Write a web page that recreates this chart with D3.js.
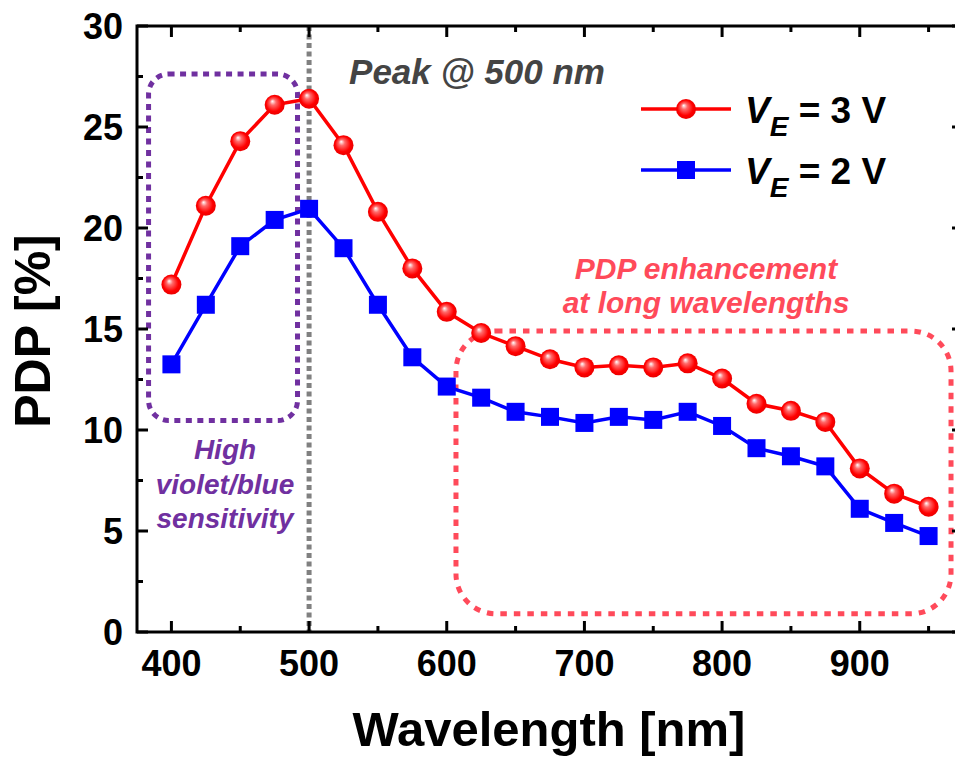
<!DOCTYPE html>
<html><head><meta charset="utf-8">
<script src="https://cdn.jsdelivr.net/npm/d3@7"></script>
<style>body{margin:0;background:#fff}svg{display:block}text{font-family:"Liberation Sans",Arial,sans-serif;font-weight:bold}</style>
</head><body><svg id="c" width="955" height="760"></svg>
<script>
const wavelengths = [400,425,450,475,500,525,550,575,600,625,650,675,700,725,750,775,800,825,850,875,900,925,950];
const pdp3V = [17.2,21.1,24.3,26.1,26.4,24.1,20.8,18.0,15.85,14.8,14.15,13.5,13.1,13.2,13.1,13.3,12.55,11.3,10.95,10.4,8.1,6.85,6.2];
const pdp2V = [13.25,16.2,19.1,20.4,20.95,19.0,16.2,13.6,12.15,11.6,10.9,10.65,10.35,10.65,10.5,10.9,10.2,9.1,8.7,8.2,6.1,5.4,4.75];
const xTicks = [400,500,600,700,800,900];
const yTicks = [0,5,10,15,20,25,30];

const svg = d3.select('#c');
const L=137, T=26, R=963, B=632;
const x = d3.scaleLinear().domain([375,975]).range([L,R]);
const y = d3.scaleLinear().domain([0,30]).range([B,T]);

const defs = svg.append('defs');
const g = defs.append('radialGradient').attr('id','ball').attr('cx','0.5').attr('cy','0.5').attr('r','0.55').attr('fx','0.38').attr('fy','0.32');
g.append('stop').attr('offset','0').attr('stop-color','#ffffff');
g.append('stop').attr('offset','0.28').attr('stop-color','#ff6a6a');
g.append('stop').attr('offset','0.7').attr('stop-color','#ff0000');
g.append('stop').attr('offset','1').attr('stop-color','#e40000');

// gray dotted vertical at peak
svg.append('line').attr('x1',x(500)).attr('x2',x(500)).attr('y1',T).attr('y2',B)
  .attr('stroke','#808080').attr('stroke-width',5).attr('stroke-dasharray','5,3.5');

// purple rounded dotted box
svg.append('rect').attr('x',x(383.4)).attr('y',y(27.62)).attr('width',x(491.6)-x(383.4)).attr('height',y(10.47)-y(27.62))
  .attr('rx',20).attr('fill','none').attr('stroke','#7030A0').attr('stroke-width',5).attr('stroke-dasharray','6,5.5');
// red rounded dotted box
svg.append('rect').attr('x',x(606.7)).attr('y',y(14.9)).attr('width',x(966.3)-x(606.7)).attr('height',y(0.9)-y(14.9))
  .attr('rx',40).attr('fill','none').attr('stroke','#FF4A5A').attr('stroke-width',5).attr('stroke-dasharray','6.5,7');

// axes frame
const ax = svg.append('g').attr('stroke','#000').attr('stroke-width',3).attr('fill','none');
ax.append('rect').attr('x',L).attr('y',T).attr('width',R-L).attr('height',B-T);

// ticks (inward)
const xMajor = d3.range(400,1000,100), xMinor = d3.range(450,1000,100);
const yMajor = d3.range(0,31,5), yMinor = d3.range(2.5,30,5);
xMajor.forEach(v=>{ax.append('line').attr('x1',x(v)).attr('x2',x(v)).attr('y1',B).attr('y2',B-11);
  ax.append('line').attr('x1',x(v)).attr('x2',x(v)).attr('y1',T).attr('y2',T+11);});
xMinor.forEach(v=>{ax.append('line').attr('x1',x(v)).attr('x2',x(v)).attr('y1',B).attr('y2',B-6);
  ax.append('line').attr('x1',x(v)).attr('x2',x(v)).attr('y1',T).attr('y2',T+6);});
yMajor.forEach(v=>{ax.append('line').attr('x1',L).attr('x2',L+11).attr('y1',y(v)).attr('y2',y(v));
  ax.append('line').attr('x1',R).attr('x2',R-11).attr('y1',y(v)).attr('y2',y(v));});
yMinor.forEach(v=>{ax.append('line').attr('x1',L).attr('x2',L+6).attr('y1',y(v)).attr('y2',y(v));
  ax.append('line').attr('x1',R).attr('x2',R-6).attr('y1',y(v)).attr('y2',y(v));});

// tick labels
svg.selectAll('.xl').data(xTicks).enter().append('text').attr('x',d=>x(d)).attr('y',B+44)
  .attr('text-anchor','middle').attr('font-size',36).text(d=>d);
svg.selectAll('.yl').data(yTicks).enter().append('text').attr('x',L-14).attr('y',d=>y(d)+13)
  .attr('text-anchor','end').attr('font-size',36).text(d=>d);

// axis titles
svg.append('text').attr('x',549).attr('y',746).attr('text-anchor','middle').attr('font-size',49).text('Wavelength [nm]');
svg.append('text').attr('transform','translate(50,331) rotate(-90)').attr('text-anchor','middle').attr('font-size',50).text('PDP [%]');

// lines
const line = d3.line().x(d=>x(d[0])).y(d=>y(d[1]));
const d3v = wavelengths.map((w,i)=>[w,pdp3V[i]]);
const d2v = wavelengths.map((w,i)=>[w,pdp2V[i]]);
svg.append('path').datum(d3v).attr('d',line).attr('fill','none').attr('stroke','#ff0000').attr('stroke-width',3.5);
svg.append('path').datum(d2v).attr('d',line).attr('fill','none').attr('stroke','#0000ff').attr('stroke-width',3.5);
svg.selectAll('.sq').data(d2v).enter().append('rect').attr('x',d=>x(d[0])-9).attr('y',d=>y(d[1])-9)
  .attr('width',18).attr('height',18).attr('fill','#0000ff');
svg.selectAll('.ci').data(d3v).enter().append('circle').attr('cx',d=>x(d[0])).attr('cy',d=>y(d[1])).attr('r',10)
  .attr('fill','url(#ball)');

// annotations
svg.append('text').attr('x',477).attr('y',84).attr('text-anchor','middle').attr('font-size',35).attr('font-style','italic').attr('fill','#444444').text('Peak @ 500 nm');
const pv = svg.append('g').attr('fill','#7030A0').attr('font-size',28).attr('font-style','italic').attr('text-anchor','middle');
[['High',459],['violet/blue',494],['sensitivity',528]].forEach(([t,yy])=>pv.append('text').attr('x',225).attr('y',yy).text(t));
const rv = svg.append('g').attr('fill','#FF4A5A').attr('font-size',30).attr('font-style','italic').attr('text-anchor','middle');
[['PDP enhancement',279],['at long wavelengths',313]].forEach(([t,yy])=>rv.append('text').attr('x',706).attr('y',yy).text(t));

// legend
const leg = [{c:'#ff0000',v:'3',y:109,m:'c'},{c:'#0000ff',v:'2',y:170,m:'s'}];
leg.forEach(o=>{
  svg.append('line').attr('x1',641).attr('x2',731).attr('y1',o.y).attr('y2',o.y).attr('stroke',o.c).attr('stroke-width',3.5);
  if(o.m==='c') svg.append('circle').attr('cx',686).attr('cy',o.y).attr('r',10).attr('fill','url(#ball)');
  else svg.append('rect').attr('x',677).attr('y',o.y-9).attr('width',18).attr('height',18).attr('fill',o.c);
  const t = svg.append('text').attr('x',745).attr('y',o.y+14).attr('font-size',37);
  t.append('tspan').attr('font-style','italic').text('V');
  t.append('tspan').attr('font-style','italic').attr('font-size',28).attr('dy',13).text('E');
  t.append('tspan').attr('dy',-13).text(` = ${o.v} V`);
});
</script></body></html>
